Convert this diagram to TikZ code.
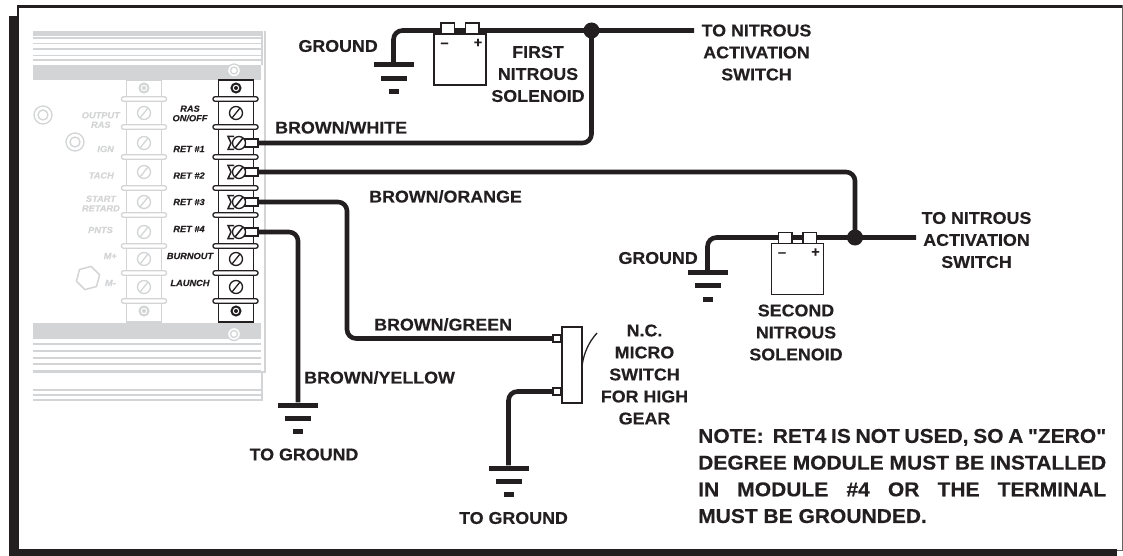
\documentclass[tikz,border=0pt]{standalone}
\usepackage{fontspec}
\usetikzlibrary{positioning,shapes.geometric}
\newfontfamily\labelfont[FakeStretch=1.05,FakeBold=0.35]{Liberation Sans}
\definecolor{ink}{HTML}{231F20}
\definecolor{pale}{HTML}{D3D4D5}

\begin{document}
\begin{tikzpicture}[x=1pt,y=-1pt,>=stealth,
  lab/.style={font=\labelfont\bfseries\fontsize{17}{22}\selectfont,text=ink,inner sep=0pt,align=center},
  tag/.style={font=\labelfont\bfseries\itshape\fontsize{8.8}{10.5}\selectfont,text=ink,inner sep=0pt,align=center},
  paletag/.style={tag,text=pale},
  signlab/.style={lab,font=\labelfont\bfseries\fontsize{14}{14}\selectfont},
  wire/.style={draw=ink,line width=4.6pt,rounded corners=9pt},
  gbar/.style={fill=ink,inner sep=0pt,minimum height=5pt,minimum width=40pt},
  gbarm/.style={gbar,minimum width=26pt},
  gbars/.style={gbar,minimum width=10pt},
  dot/.style={circle,fill=ink,inner sep=0pt,minimum size=16pt},
  solbody/.style={rectangle,draw=ink,fill=white,line width=1.2pt,inner sep=0pt,outer sep=0pt,minimum width=52pt,minimum height=51pt},
  solterm/.style={rectangle,draw=ink,fill=white,line width=1.2pt,inner sep=0pt,outer sep=0pt,minimum width=13.5pt,minimum height=11pt,anchor=south},
  swbody/.style={rectangle,draw=ink,fill=white,line width=2pt,inner sep=0pt,outer sep=0pt,minimum width=20pt,minimum height=76pt},
  swterm/.style={rectangle,draw=ink,fill=white,line width=2pt,inner sep=0pt,outer sep=0pt,minimum width=8pt,minimum height=7pt},
  strip/.style={rectangle,draw=#1,line width=1.5pt,fill=white,inner sep=0pt,minimum width=35pt,minimum height=242pt},
  sepbar/.style={rectangle,draw=#1,line width=1.3pt,fill=white,rounded corners=2pt,inner sep=0pt,minimum width=45pt,minimum height=4.5pt},
  screw/.style={circle,draw=#1,line width=1.3pt,fill=white,inner sep=0pt,minimum size=13pt},
  stud/.style={circle,draw=#1,line width=2pt,fill=white,inner sep=0pt,minimum size=9pt},
  bolt/.style={circle,draw=pale,line width=1.3pt,fill=white,inner sep=0pt,minimum size=#1},
  lug/.style={rectangle,draw=ink,line width=1.2pt,fill=white,inner sep=0pt,outer sep=0pt,minimum width=13pt,minimum height=8pt}]
  \useasboundingbox (0,0) rectangle (1123,556);

  % frame
  \fill[ink] (9,16) rectangle (19,556);
  \fill[ink] (9,549) rectangle (1117,556);
  \fill[ink] (17,5) rectangle (1123,8);
  \fill[ink] (17,5) rectangle (19,16);
  \draw[ink!70,line width=1pt] (1122.5,5) -- (1122.5,550) -- (1117,550);

  % module housing
  \foreach \ya/\yb in {31/36,37.5/39.5,43/44.5,48.5/50,55/56.5,59.5/61,65/80,323/339,343/345,350/351.5,357/358.5,363/364.5,370/373,389/390.5,394/395.5,399/401}
    \fill[pale] (33,\ya) rectangle (261,\yb);
  \draw[pale,line width=1.5pt] (262,31) -- (262,65);
  \draw[pale,line width=1.5pt] (265,31) -- (265,372) -- (33,372);
  \draw[pale,line width=1.5pt] (262,372) -- (262,401);
  \node[bolt=13pt] (capT) at (234,70.5) {};
  \node[bolt=7pt] (capTi) at (234,70.5) {};
  \node[bolt=13pt] (capB) at (234,334) {};
  \node[bolt=7pt] (capBi) at (234,334) {};
  \node[bolt=18pt] (boltA) at (43,115) {};
  \node[bolt=10pt] (boltAi) at (43,115) {};
  \node[bolt=18pt] (boltB) at (75,142) {};
  \node[bolt=10pt] (boltBi) at (75,142) {};
  \node[regular polygon,regular polygon sides=6,shape border rotate=15,draw=pale,line width=1.5pt,inner sep=0pt,minimum size=24pt] (boltC) at (88,278) {};

  % terminal strips
  \node[strip=pale] (stripL) at (144,201) {};
  \node[strip=ink] (stripR) at (236,201) {};
  \foreach \y in {99,127,157,188,215,246,273,301} {
    \node[sepbar=pale] (sepL\y) at (144,\y) {};
    \node[sepbar=ink] (sepR\y) at (235.5,\y) {};
  }
  \foreach \y in {113,143,172,202,232,259,287} {
    \node[screw=pale] (scrL\y) at (144,\y) {};
    \draw[pale,line width=1.3pt] (140,\y+5) -- (148,\y-5);
  }
  \foreach \y in {113,259,287} {
    \node[screw=ink] (scrR\y) at (236,\y) {};
    \draw[ink,line width=1.3pt] (232,\y+5) -- (240,\y-5);
  }
  \foreach \y in {88,311} {
    \node[stud=pale] (studL\y) at (144,\y) {};
    \fill[pale] (144,\y) circle (2pt);
    \node[stud=ink] (studR\y) at (236,\y) {};
    \fill[ink] (236,\y) circle (2pt);
  }

  % wires need these ends first
  \node[lug] (ret1) at (251.5,143) {};
  \node[lug] (ret2) at (251.5,172) {};
  \node[lug] (ret3) at (251.5,202) {};
  \node[lug] (ret4) at (251.5,232) {};
  \foreach \y in {143,172,202,232} {
    \draw[ink,line width=1.5pt,fill=white] (234,\y-6.5) -- (228,\y-6.5) -- (231,\y) -- (228,\y+6.5) -- (234,\y+6.5);
    \node[screw=ink] (scrR\y) at (239,\y) {};
    \draw[ink,line width=1.5pt] (235,\y+5) -- (243,\y-5);
  }

  \node[gbar] (gndA) at (393.5,65) {};
  \node[gbarm,below=8pt of gndA] (gndAm) {};
  \node[gbars,below=8pt of gndAm] (gndAs) {};
  \node[gbar] (gndB) at (707.5,272.5) {};
  \node[gbarm,below=8pt of gndB] (gndBm) {};
  \node[gbars,below=8pt of gndBm] (gndBs) {};
  \node[gbar] (gndC) at (508.5,468) {};
  \node[gbarm,below=8pt of gndC] (gndCm) {};
  \node[gbars,below=8pt of gndCm] (gndCs) {};
  \node[gbar] (gndD) at (298,405) {};
  \node[gbarm,below=8pt of gndD] (gndDm) {};
  \node[gbars,below=8pt of gndDm] (gndDs) {};

  \node[dot] (junA) at (591.5,30.5) {};
  \node[dot] (junB) at (855,237.5) {};
  \coordinate (toA) at (694,30.5);
  \coordinate (toB) at (916,237.5);
  \coordinate (bendC) at (347,270);

  \node[swbody] (micro) at (571.5,364.5) {};
  \node[swterm] (swA) at (556.5,338.5) {};
  \node[swterm] (swB) at (556.5,391.5) {};

  \draw[wire] (ret1.east) -| (junA.center);
  \draw[wire] (ret2.east) -| (junB.center);
  \draw[wire] (ret3.east) -| (bendC) |- (swA.west);
  \draw[wire] (ret4.east) -| (gndD.north);
  \draw[wire] (swB.west) -| (gndC.north);
  \draw[wire] (gndA.north) |- (junA.center) -- (toA);
  \draw[wire] (gndB.north) |- (junB.center) -- (toB);

  \draw[ink,line width=1.3pt] (582,366) .. controls (584,352) and (589,342) .. (597,333);

  % solenoids
  \node[solbody] (solA) at (460,59.5) {};
  \node[solterm,xshift=-12.3pt] (solAm) at (solA.north) {};
  \node[solterm,xshift=12.3pt] (solAp) at (solA.north) {};
  \node[signlab,xshift=10.5pt,yshift=-11pt] (solAminus) at (solA.north west) {–};
  \node[signlab,xshift=-8pt,yshift=-9pt] (solAplus) at (solA.north east) {+};
  \node[solbody] (solB) at (797.5,269) {};
  \node[solterm,xshift=-12.3pt] (solBm) at (solB.north) {};
  \node[solterm,xshift=12.3pt] (solBp) at (solB.north) {};
  \node[signlab,xshift=10.5pt,yshift=-11pt] (solBminus) at (solB.north west) {–};
  \node[signlab,xshift=-8pt,yshift=-9pt] (solBplus) at (solB.north east) {+};

  % terminal names
  \node[tag] (tRas) at (190,113.5) {RAS\\[-1pt]ON/OFF};
  \node[tag] (tRet1) at (189,149) {RET \#1};
  \node[tag] (tRet2) at (189,175.5) {RET \#2};
  \node[tag] (tRet3) at (189,202) {RET \#3};
  \node[tag] (tRet4) at (189,229) {RET \#4};
  \node[tag] (tBurn) at (190,256) {BURNOUT};
  \node[tag] (tLaunch) at (190,283) {LAUNCH};
  \node[paletag,anchor=east] (tOut) at (120,120) {OUTPUT\\[-1pt]RAS};
  \node[paletag,anchor=east] (tIgn) at (114,149) {IGN};
  \node[paletag,anchor=east] (tTach) at (114,175.5) {TACH};
  \node[paletag,anchor=east] (tStart) at (120,203.5) {START\\[-1pt]RETARD};
  \node[paletag,anchor=east] (tPnts) at (113,230) {PNTS};
  \node[paletag,anchor=east] (tMp) at (117,256) {M+};
  \node[paletag,anchor=east] (tMm) at (116,283) {M-};

  % labels
  \node[lab,anchor=east] (lGndA) at (378,46) {GROUND};
  \node[lab,anchor=east] (lGndB) at (698,258) {GROUND};
  \node[lab] (lSolA) at (538,74) {FIRST\\NITROUS\\SOLENOID};
  \node[lab] (lSolB) at (796,332.5) {SECOND\\NITROUS\\SOLENOID};
  \node[lab] (lToA) at (756.5,52.5) {TO NITROUS\\ACTIVATION\\SWITCH};
  \node[lab] (lToB) at (976.5,240) {TO NITROUS\\ACTIVATION\\SWITCH};
  \node[lab,anchor=west] (lWhite) at (275,127.5) {BROWN/WHITE};
  \node[lab,anchor=west] (lOrange) at (369,196.5) {BROWN/ORANGE};
  \node[lab,anchor=west] (lGreen) at (374,324.5) {BROWN/GREEN};
  \node[lab,anchor=west] (lYellow) at (304,377.5) {BROWN/YELLOW};
  \node[lab] (lGrdA) at (304,454.5) {TO GROUND};
  \node[lab] (lGrdB) at (513.5,518) {TO GROUND};
  \node[lab] (lMicro) at (644.5,374.5) {N.C.\\MICRO\\SWITCH\\FOR HIGH\\GEAR};
  \node[lab,anchor=north west,align=left,font=\labelfont\bfseries\fontsize{20}{26.7}\selectfont] (lNote) at (698,428.7)
    {\makebox[408pt][s]{NOTE:\ \ RET4 IS NOT USED, SO A "ZERO"}\\
     \makebox[408pt][s]{DEGREE MODULE MUST BE INSTALLED}\\
     \makebox[408pt][s]{IN MODULE \#4 OR THE TERMINAL}\\
     MUST BE GROUNDED.};
\end{tikzpicture}
\end{document}
